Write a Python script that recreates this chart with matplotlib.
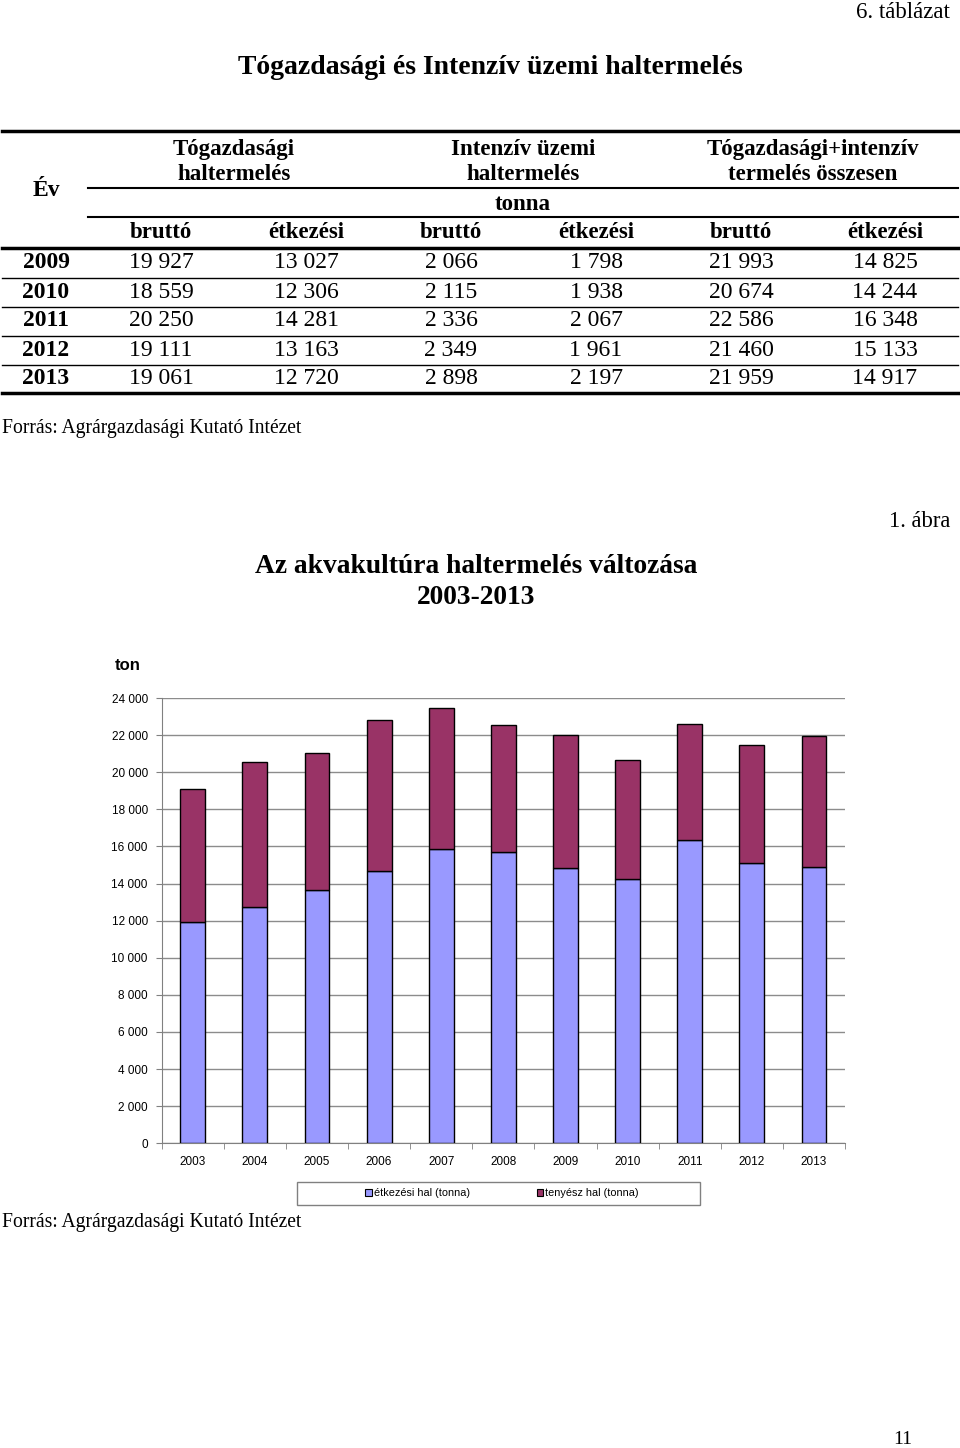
import numpy as np
import matplotlib
matplotlib.use("Agg")
import matplotlib.pyplot as plt
from matplotlib.lines import Line2D
from matplotlib.patches import Patch, Rectangle

W, H = 960, 1448

# table data
table_years = ["2009", "2010", "2011", "2012", "2013"]
to_brutto = ["19 927", "18 559", "20 250", "19 111", "19 061"]
to_etkezesi = ["13 027", "12 306", "14 281", "13 163", "12 720"]
int_brutto = ["2 066", "2 115", "2 336", "2 349", "2 898"]
int_etkezesi = ["1 798", "1 938", "2 067", "1 961", "2 197"]
ossz_brutto = ["21 993", "20 674", "22 586", "21 460", "21 959"]
ossz_etkezesi = ["14 825", "14 244", "16 348", "15 133", "14 917"]

# chart data (tonna)
chart_years = ["2003", "2004", "2005", "2006", "2007", "2008",
               "2009", "2010", "2011", "2012", "2013"]
etkezesi_hal = [11910, 12740, 13650, 14680, 15860, 15690,
                14825, 14244, 16348, 15133, 14917]
osszes_hal = [19080, 20530, 21040, 22800, 23460, 22550,
              21993, 20674, 22586, 21460, 21959]
tenyesz_hal = [t - e for t, e in zip(osszes_hal, etkezesi_hal)]

SERIF = "Liberation Serif"
SANS = "Liberation Sans"


def fx(x):
    return x / W


def fy(y):
    return 1 - y / H


def text(x, y, s, size, weight="normal", ha="center", family=SERIF, **kw):
    fig.text(fx(x), fy(y), s, fontsize=size, fontweight=weight, ha=ha,
             va="center", family=family, **kw)


def hline(y, x0, x1, lw):
    fig.add_artist(Line2D([fx(x0), fx(x1)], [fy(y), fy(y)], color="black",
                          lw=lw, transform=fig.transFigure))


fig = plt.figure(figsize=(W / 100, H / 100), dpi=100)

# ---- table part ----
text(950, 12, "6. táblázat", 16.5, ha="right")
text(490, 68, "Tógazdasági és Intenzív üzemi haltermelés", 20, weight="bold")

hline(131, 2, 958, 2.5)
hline(188, 88, 958, 1.5)
hline(217, 88, 958, 1.5)
hline(248, 2, 958, 2.5)
hline(393, 2, 958, 2.5)

text(46, 190, "Év", 17, weight="bold")
groups = ["Tógazdasági\nhaltermelés", "Intenzív üzemi\nhaltermelés",
          "Tógazdasági+intenzív\ntermelés összesen"]
for gx, g in zip([234, 523, 813], groups):
    text(gx, 162, g, 16.5, weight="bold", linespacing=1.2)
text(523, 204, "tonna", 16.5, weight="bold")

col_x = [161, 306, 451, 596, 741, 885]
for cx, s in zip(col_x, ["bruttó", "étkezési"] * 3):
    text(cx, 233, s, 16.5, weight="bold")

columns = [to_brutto, to_etkezesi, int_brutto, int_etkezesi,
           ossz_brutto, ossz_etkezesi]
row_y = [263, 292, 321, 350, 378]
for i, ry in enumerate(row_y):
    text(46, ry, table_years[i], 17, weight="bold")
    for cx, col in zip(col_x, columns):
        text(cx, ry, col[i], 17)
    if i < len(row_y) - 1:
        hline(ry + 14.5, 2, 958, 1.0)

text(2, 429, "Forrás: Agrárgazdasági Kutató Intézet", 14.1, ha="left")

# ---- chart part ----
text(950, 522, "1. ábra", 16.3, ha="right")
text(476, 582, "Az akvakultúra haltermelés változása\n2003-2013", 19.8,
     weight="bold", linespacing=1.35)
text(115, 665, "ton", 12, weight="bold", ha="left", family=SANS)

ax = fig.add_axes([fx(161.7), fy(1143.3), fx(845) - fx(161.7),
                   fy(698) - fy(1143.3)])
x = np.arange(len(chart_years))
blue = "#9999FF"
maroon = "#993366"
ax.bar(x, etkezesi_hal, width=0.4, color=blue, edgecolor="black", lw=1,
       zorder=3)
ax.bar(x, tenyesz_hal, bottom=etkezesi_hal, width=0.4, color=maroon,
       edgecolor="black", lw=1, zorder=3)
ax.set_xlim(-0.5, len(chart_years) - 0.5)
ax.set_ylim(0, 24000)
ax.set_yticks(np.arange(0, 24001, 2000))
ax.set_yticklabels([f"{v:,}".replace(",", " ") for v in range(0, 24001, 2000)],
                   family=SANS, fontsize=8.5)
ax.set_xticks(x)
ax.set_xticklabels(chart_years, family=SANS, fontsize=8.5)
ax.set_xticks(np.arange(-0.5, len(chart_years), 1), minor=True)
ax.tick_params(axis="x", which="major", length=0, pad=9)
ax.tick_params(axis="x", which="minor", length=4, color="#808080")
ax.tick_params(axis="y", length=4, color="#808080", pad=6)
ax.grid(axis="y", color="#8c8c8c", lw=1, zorder=0)
for side in ["top", "right"]:
    ax.spines[side].set_visible(False)
for side in ["left", "bottom"]:
    ax.spines[side].set_color("#808080")

# legend box
fig.add_artist(Rectangle((fx(297), fy(1205)), fx(700) - fx(297),
                         fy(1182) - fy(1205), transform=fig.transFigure,
                         fill=False, edgecolor="#808080", lw=1))
handles = [Patch(facecolor=blue, edgecolor="black", lw=0.8),
           Patch(facecolor=maroon, edgecolor="black", lw=0.8)]
leg = fig.legend(handles, ["étkezési hal (tonna)", "tenyész hal (tonna)"],
                 loc="center left", bbox_to_anchor=(fx(360), fy(1193.5)),
                 ncol=2, frameon=False, handlelength=0.6, handleheight=0.6,
                 handletextpad=0.15, columnspacing=6.2, borderpad=0,
                 prop={"family": SANS, "size": 7.8})

text(2, 1222, "Forrás: Agrárgazdasági Kutató Intézet", 14.1, ha="left")
text(903, 1440, "11", 14)

fig.savefig("out.png", dpi=100)
